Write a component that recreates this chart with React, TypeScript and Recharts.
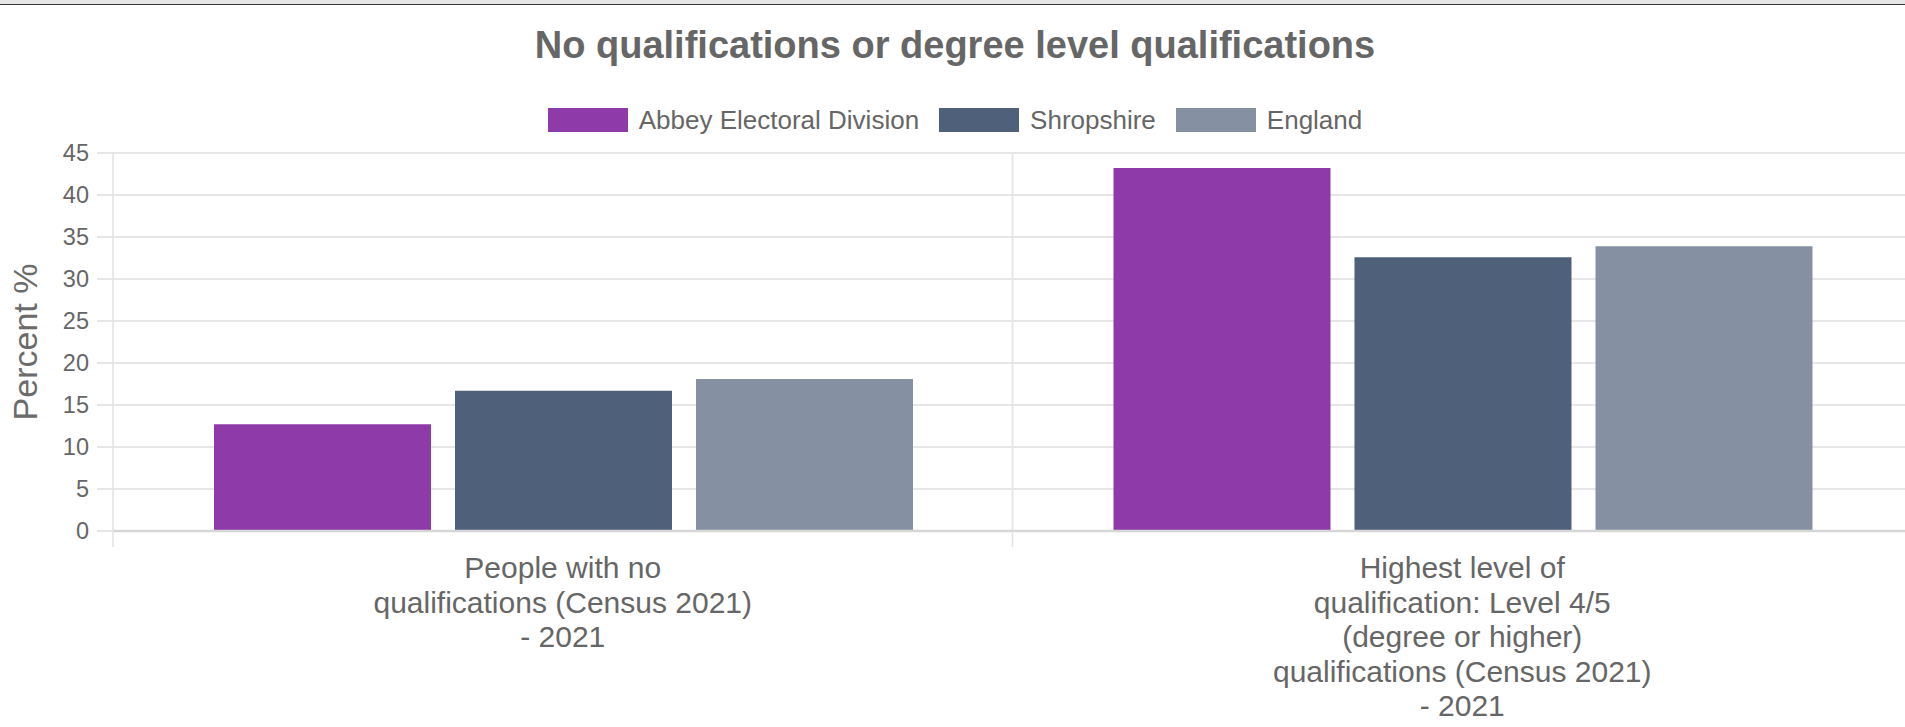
import React from 'react';
import { BarChart, Bar, XAxis, YAxis, CartesianGrid } from 'recharts';

const categories = [
  'People with no qualifications (Census 2021) - 2021',
  'Highest level of qualification: Level 4/5 (degree or higher) qualifications (Census 2021) - 2021',
];
const categoryLines = [
  ['People with no', 'qualifications (Census 2021)', '- 2021'],
  ['Highest level of', 'qualification: Level 4/5', '(degree or higher)', 'qualifications (Census 2021)', '- 2021'],
];
const abbey = [12.7, 43.2];
const shropshire = [16.7, 32.6];
const england = [18.1, 33.9];
const seriesKeys = ['abbey', 'shropshire', 'england'];
const seriesNames = ['Abbey Electoral Division', 'Shropshire', 'England'];
const seriesColors = ['#8f3aa9', '#4f607b', '#8690a3'];
const yTicks = [0, 5, 10, 15, 20, 25, 30, 35, 40, 45];

const data = categories.map((name, i) => ({
  name,
  abbey: abbey[i],
  shropshire: shropshire[i],
  england: england[i],
}));

const FONT = '"Liberation Sans", Arial, Helvetica, sans-serif';
const CHART_W = 1920;
const CHART_H = 727;
const LEFT = 113;
const RIGHT_MARGIN = 8;
const PLOT_W = CHART_W - LEFT - RIGHT_MARGIN;
const CAT_W = PLOT_W / categories.length;

function CategoryTick(props: any) {
  const { x, y, payload } = props;
  const idx = categories.indexOf(payload.value);
  const lines = categoryLines[idx] || [];
  const bx = x - CAT_W / 2;
  return (
    <g>
      <line x1={bx} x2={bx} y1={y} y2={y + 16} stroke="#e2e2e2" strokeWidth={1.5} />
      <text textAnchor="middle" fill="#666" fontSize={30} fontFamily={FONT}>
        {lines.map((l, i) => (
          <tspan key={i} x={x} y={y + 47 + i * 34.5}>
            {l}
          </tspan>
        ))}
      </text>
    </g>
  );
}

function YTitle(props: any) {
  const vb = props.viewBox || { y: 153, height: 378 };
  const cy = vb.y + vb.height / 2;
  return (
    <text
      x={37}
      y={cy}
      transform={`rotate(-90 37 ${cy})`}
      textAnchor="middle"
      fill="#6b6b6b"
      fontSize={34}
      fontFamily={FONT}
    >
      Percent %
    </text>
  );
}

export default function App() {
  return (
    <div
      style={{
        position: 'absolute',
        left: 0,
        top: 0,
        width: 1905,
        height: 727,
        overflow: 'hidden',
        background: '#fff',
        fontFamily: FONT,
      }}
    >
      <div
        style={{
          position: 'absolute',
          left: 0,
          top: 0,
          width: '100%',
          height: 4,
          background: '#e6e6e6',
          borderBottom: '1.5px solid #333',
        }}
      />
      <div
        style={{
          position: 'absolute',
          left: 0,
          top: 26,
          width: 1910,
          textAlign: 'center',
          fontSize: 38,
          lineHeight: '38px',
          fontWeight: 'bold',
          color: '#666',
        }}
      >
        No qualifications or degree level qualifications
      </div>
      <div
        style={{
          position: 'absolute',
          left: 0,
          top: 108,
          width: 1910,
          height: 24,
          display: 'flex',
          justifyContent: 'center',
          alignItems: 'center',
          gap: 20,
        }}
      >
        {seriesNames.map((n, i) => (
          <div key={n} style={{ display: 'flex', alignItems: 'center', gap: 11 }}>
            <div style={{ width: 80, height: 24, background: seriesColors[i] }} />
            <span style={{ fontSize: 26, lineHeight: '24px', color: '#666' }}>{n}</span>
          </div>
        ))}
      </div>
      <div style={{ position: 'absolute', left: 0, top: 0 }}>
        <BarChart
          width={CHART_W}
          height={CHART_H}
          data={data}
          margin={{ top: 153, right: RIGHT_MARGIN, left: 0, bottom: 0 }}
          barCategoryGap={101}
          barGap={24}
        >
          <CartesianGrid
            stroke="#e6e6e6"
            strokeWidth={1.8}
            verticalPoints={[LEFT + CAT_W]}
          />
          <XAxis
            dataKey="name"
            height={196}
            interval={0}
            tickLine={false}
            tickSize={0}
            tickMargin={0}
            axisLine={{ stroke: '#d6d6d6', strokeWidth: 2.5 }}
            tick={<CategoryTick />}
          />
          <YAxis
            width={LEFT}
            domain={[0, 45]}
            ticks={yTicks}
            interval={0}
            tickSize={16}
            tickMargin={8}
            tickLine={{ stroke: '#e2e2e2', strokeWidth: 1.8 }}
            axisLine={{ stroke: '#e2e2e2', strokeWidth: 1.5 }}
            tick={{ fill: '#666', fontSize: 23.5, fontFamily: FONT }}
            label={<YTitle />}
          />
          {seriesKeys.map((k, i) => (
            <Bar
              key={k}
              dataKey={k}
              name={seriesNames[i]}
              fill={seriesColors[i]}
              isAnimationActive={false}
            />
          ))}
        </BarChart>
      </div>
    </div>
  );
}
